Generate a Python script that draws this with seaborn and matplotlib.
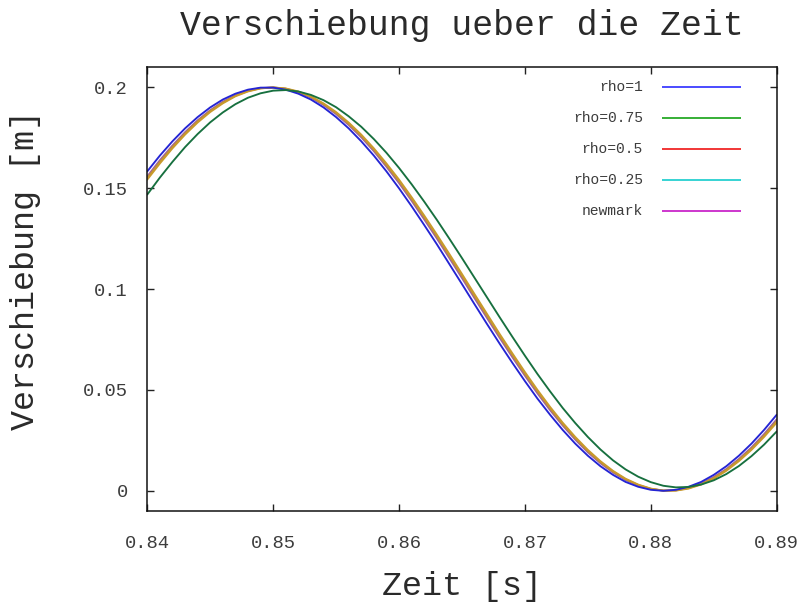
import matplotlib
matplotlib.use("Agg")
import matplotlib.pyplot as plt
import seaborn as sns
import pandas as pd

# time axis [s]
zeit = [0.840, 0.841, 0.842, 0.843, 0.844, 0.845, 0.846, 0.847, 0.848, 0.849,
        0.850, 0.851, 0.852, 0.853, 0.854, 0.855, 0.856, 0.857, 0.858, 0.859,
        0.860, 0.861, 0.862, 0.863, 0.864, 0.865, 0.866, 0.867, 0.868, 0.869,
        0.870, 0.871, 0.872, 0.873, 0.874, 0.875, 0.876, 0.877, 0.878, 0.879,
        0.880, 0.881, 0.882, 0.883, 0.884, 0.885, 0.886, 0.887, 0.888, 0.889,
        0.890]

# displacement [m] per scheme
rho_1 = [0.1584, 0.1662, 0.1733, 0.1797, 0.1853, 0.1901, 0.1940, 0.1969, 0.1989, 0.1999,
         0.1999, 0.1989, 0.1969, 0.1940, 0.1901, 0.1853, 0.1797, 0.1733, 0.1662, 0.1584,
         0.1500, 0.1411, 0.1318, 0.1223, 0.1124, 0.1025, 0.0925, 0.0826, 0.0729, 0.0635,
         0.0544, 0.0457, 0.0377, 0.0302, 0.0234, 0.0174, 0.0122, 0.0079, 0.0044, 0.0020,
         0.0005, 0.0000, 0.0005, 0.0020, 0.0044, 0.0079, 0.0122, 0.0174, 0.0234, 0.0302,
         0.0377]

rho_075 = [0.1469, 0.1553, 0.1631, 0.1704, 0.1769, 0.1827, 0.1876, 0.1917, 0.1949, 0.1971,
           0.1984, 0.1987, 0.1980, 0.1963, 0.1937, 0.1902, 0.1857, 0.1805, 0.1744, 0.1676,
           0.1601, 0.1520, 0.1434, 0.1344, 0.1250, 0.1154, 0.1056, 0.0958, 0.0860, 0.0764,
           0.0670, 0.0579, 0.0493, 0.0411, 0.0336, 0.0267, 0.0205, 0.0151, 0.0106, 0.0070,
           0.0043, 0.0025, 0.0017, 0.0019, 0.0031, 0.0052, 0.0083, 0.0123, 0.0172, 0.0229,
           0.0294]

rho_05 = [0.1543, 0.1623, 0.1698, 0.1766, 0.1826, 0.1878, 0.1921, 0.1956, 0.1980, 0.1995,
          0.2000, 0.1995, 0.1980, 0.1956, 0.1921, 0.1878, 0.1826, 0.1766, 0.1698, 0.1623,
          0.1543, 0.1456, 0.1365, 0.1271, 0.1174, 0.1075, 0.0975, 0.0876, 0.0777, 0.0682,
          0.0589, 0.0500, 0.0416, 0.0338, 0.0267, 0.0203, 0.0147, 0.0099, 0.0060, 0.0031,
          0.0011, 0.0001, 0.0001, 0.0011, 0.0031, 0.0060, 0.0099, 0.0147, 0.0203, 0.0267,
          0.0338]

rho_025 = [0.1551, 0.1631, 0.1705, 0.1772, 0.1832, 0.1883, 0.1925, 0.1959, 0.1982, 0.1996,
           0.2000, 0.1994, 0.1978, 0.1953, 0.1917, 0.1873, 0.1820, 0.1760, 0.1691, 0.1615,
           0.1535, 0.1447, 0.1356, 0.1262, 0.1164, 0.1065, 0.0965, 0.0866, 0.0768, 0.0673,
           0.0580, 0.0492, 0.0408, 0.0331, 0.0261, 0.0197, 0.0142, 0.0095, 0.0057, 0.0029,
           0.0010, 0.0001, 0.0002, 0.0013, 0.0034, 0.0064, 0.0104, 0.0153, 0.0209, 0.0274,
           0.0346]

newmark = [0.1559, 0.1639, 0.1712, 0.1778, 0.1837, 0.1887, 0.1929, 0.1961, 0.1984, 0.1997,
           0.2000, 0.1993, 0.1976, 0.1950, 0.1913, 0.1868, 0.1814, 0.1753, 0.1684, 0.1607,
           0.1526, 0.1438, 0.1346, 0.1252, 0.1154, 0.1055, 0.0955, 0.0856, 0.0758, 0.0663,
           0.0571, 0.0483, 0.0400, 0.0324, 0.0254, 0.0191, 0.0137, 0.0091, 0.0054, 0.0027,
           0.0009, 0.0001, 0.0003, 0.0015, 0.0036, 0.0068, 0.0108, 0.0158, 0.0215, 0.0281,
           0.0354]

labels = ["rho=1", "rho=0.75", "rho=0.5", "rho=0.25", "newmark"]
series = [rho_1, rho_075, rho_05, rho_025, newmark]
key_colors = ["#1a1aff", "#009a00", "#ee0000", "#00c8c8", "#c000c0"]
curve_colors = {"rho=1": "#2424d4", "rho=0.75": "#17703f", "rho=0.5": "#c99a2c",
                "rho=0.25": "#bf9434", "newmark": "#9c5aa8"}
draw_order = ["newmark", "rho=0.25", "rho=0.5", "rho=1", "rho=0.75"]

xticks = [0.84, 0.85, 0.86, 0.87, 0.88, 0.89]
xtick_labels = ["0.84", "0.85", "0.86", "0.87", "0.88", "0.89"]
yticks = [0, 0.05, 0.1, 0.15, 0.2]
ytick_labels = ["0", "0.05", "0.1", "0.15", "0.2"]

df = pd.DataFrame({
    "Zeit": zeit * len(labels),
    "Verschiebung": [v for s in series for v in s],
    "Verfahren": [lab for lab in labels for _ in zeit],
})

sns.set_theme(style="white")
mono = ["Liberation Mono", "DejaVu Sans Mono"]
plt.rcParams["font.family"] = mono

fig = plt.figure(figsize=(8.03, 6.05), dpi=100)
ax = fig.add_axes([0.1834, 0.1554, 0.7838, 0.7334])

for lab in draw_order:
    sub = df[df["Verfahren"] == lab]
    sns.lineplot(data=sub, x="Zeit", y="Verschiebung", ax=ax,
                 color=curve_colors[lab], linewidth=1.35, legend=False,
                 estimator=None, sort=False)

ax.set_xlim(0.84, 0.89)
ax.set_ylim(-0.01, 0.21)
ax.set_xticks(xticks)
ax.set_xticklabels(xtick_labels)
ax.set_yticks(yticks)
ax.set_yticklabels(ytick_labels)

ax.tick_params(axis="both", which="major", direction="in", length=5, width=1,
               color="#222222", labelsize=13.5, labelcolor="#3c3c3c",
               top=True, right=True, bottom=True, left=True)
ax.tick_params(axis="x", pad=17)
ax.tick_params(axis="y", pad=14)
for sp in ax.spines.values():
    sp.set_visible(True)
    sp.set_color("#111111")
    sp.set_linewidth(1.1)

ax.set_xlabel("Zeit [s]", fontsize=24, color="#2a2a2a")
ax.set_ylabel("Verschiebung [m]", fontsize=24, color="#2a2a2a")
ax.xaxis.set_label_coords(0.5, -0.171)
ax.xaxis.label.set_va("center")
ax.yaxis.set_label_coords(-0.194, 0.543)
ax.yaxis.label.set_va("center")
ax.yaxis.label.set_ha("center")

fig.text(0.5 * (0.1834 + 0.9672), 1 - 25 / 605, "Verschiebung ueber die Zeit",
         ha="center", va="center", fontsize=25, color="#2a2a2a")

# gnuplot-style key: right-aligned labels followed by a line sample
key_top = 0.955
key_step = 0.0697
for k, (lab, col) in enumerate(zip(labels, key_colors)):
    ky = key_top - k * key_step
    ax.text(0.7876, ky, lab, transform=ax.transAxes, ha="right", va="center",
            fontsize=10.5, color="#3c3c3c")
    ax.plot([0.818, 0.943], [ky, ky], transform=ax.transAxes, color=col,
            linewidth=1.1, solid_capstyle="butt")

fig.savefig("out.png", dpi=100, facecolor="white")
